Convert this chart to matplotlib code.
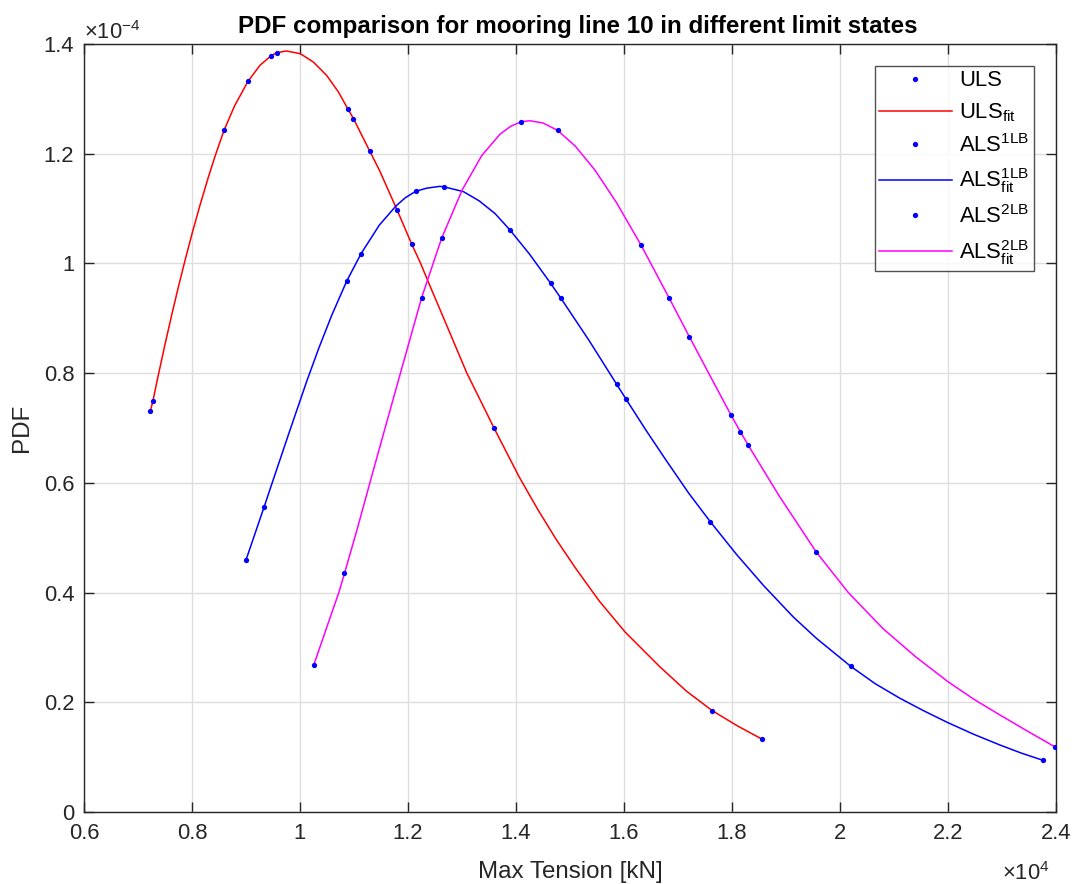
import numpy as np
import matplotlib
matplotlib.use("Agg")
import matplotlib.pyplot as plt
from matplotlib.ticker import FuncFormatter, MultipleLocator

plt.rcParams["font.family"] = ["Liberation Sans", "DejaVu Sans"]
plt.rcParams["mathtext.fontset"] = "custom"
plt.rcParams["mathtext.rm"] = "Liberation Sans"
plt.rcParams["mathtext.it"] = "Liberation Sans:italic"
plt.rcParams["mathtext.bf"] = "Liberation Sans:bold"

X_UNIT = 1e4    # kN
Y_UNIT = 1e-4   # PDF

# ULS: observed maxima and fitted density
uls_x = np.array([0.7230, 0.7275, 0.8593, 0.9037, 0.9469, 0.9567, 1.0890, 1.0990,
                  1.1290, 1.1800, 1.2068, 1.3596, 1.7635, 1.8550]) * X_UNIT
uls_pdf = np.array([0.731, 0.749, 1.2426, 1.332, 1.379, 1.384, 1.281, 1.264,
                    1.205, 1.097, 1.0354, 0.6994, 0.1847, 0.1331]) * Y_UNIT
uls_fit_x = np.array([0.7230, 0.7275, 0.7374, 0.7500, 0.7626, 0.7750, 0.7880, 0.8006,
                      0.8150, 0.8300, 0.8440, 0.8593, 0.8790, 0.9037, 0.9259, 0.9469,
                      0.9567, 0.9746, 1.0006, 1.0246, 1.0494, 1.0709, 1.0890, 1.0990,
                      1.1290, 1.1470, 1.1800, 1.2068, 1.2234, 1.2360, 1.2700, 1.3090,
                      1.3337, 1.3596, 1.4058, 1.4400, 1.4750, 1.5100, 1.5413, 1.5556,
                      1.6019, 1.6667, 1.7160, 1.7635, 1.8100, 1.8550]) * X_UNIT
uls_fit_pdf = np.array([0.731, 0.749, 0.7954, 0.8524, 0.9069, 0.958, 1.0091, 1.0561,
                        1.1068, 1.1563, 1.1992, 1.2426, 1.2875, 1.332, 1.3612, 1.379,
                        1.384, 1.3873, 1.3823, 1.3672, 1.3426, 1.3130, 1.281, 1.264,
                        1.205, 1.170, 1.097, 1.0354, 1.000, 0.970, 0.891, 0.800,
                        0.751, 0.6994, 0.611, 0.552, 0.496, 0.445, 0.402, 0.3829,
                        0.3282, 0.2644, 0.2200, 0.1847, 0.157, 0.1331]) * Y_UNIT

# ALS, one line broken
als1_x = np.array([0.9000, 0.9333, 1.0866, 1.1132, 1.2141, 1.2672, 1.3889, 1.4642,
                   1.4828, 1.5865, 1.6037, 1.7598, 2.0198, 2.3760]) * X_UNIT
als1_pdf = np.array([0.4594, 0.5554, 0.968, 1.0172, 1.1314, 1.1395, 1.0609, 0.9637,
                     0.937, 0.7796, 0.7528, 0.5292, 0.2656, 0.0942]) * Y_UNIT
als1_fit_x = np.array([0.9000, 0.9333, 0.9485, 0.9800, 1.0124, 1.0350, 1.0590, 1.0866,
                       1.1132, 1.1470, 1.1780, 1.1950, 1.2141, 1.2346, 1.2590, 1.2672,
                       1.3024, 1.3319, 1.3611, 1.3889, 1.4250, 1.4642, 1.4828, 1.5350,
                       1.5865, 1.6037, 1.6400, 1.6767, 1.7200, 1.7598, 1.8080, 1.8580,
                       1.9135, 1.9569, 2.0198, 2.0650, 2.1110, 2.1550, 2.2000, 2.2480,
                       2.2963, 2.3360, 2.3760]) * X_UNIT
als1_fit_pdf = np.array([0.4594, 0.5554, 0.600, 0.692, 0.785, 0.846, 0.906, 0.968,
                         1.0180, 1.070, 1.105, 1.1197, 1.1314, 1.1372, 1.1405, 1.1395,
                         1.131, 1.114, 1.091, 1.0609, 1.017, 0.9637, 0.937, 0.860,
                         0.7796, 0.7528, 0.697, 0.643, 0.581, 0.5292, 0.470, 0.4133,
                         0.3555, 0.3161, 0.2656, 0.234, 0.2073, 0.1845, 0.1628, 0.1415,
                         0.1221, 0.1073, 0.0942]) * Y_UNIT

# ALS, two lines broken
als2_x = np.array([1.0257, 1.0824, 1.2252, 1.2622, 1.4098, 1.4772, 1.6315, 1.6833,
                   1.7209, 1.7981, 1.8154, 1.8302, 1.9556, 2.3976]) * X_UNIT
als2_pdf = np.array([0.2685, 0.435, 0.9375, 1.0457, 1.2584, 1.2425, 1.0335, 0.9375,
                     0.8666, 0.7237, 0.6933, 0.6684, 0.4745, 0.119]) * Y_UNIT
als2_fit_x = np.array([1.0257, 1.0500, 1.0719, 1.0824, 1.1060, 1.1294, 1.1580, 1.1860,
                       1.2252, 1.2622, 1.3006, 1.3365, 1.3704, 1.3900, 1.4098, 1.4257,
                       1.4500, 1.4772, 1.5100, 1.5460, 1.5860, 1.6315, 1.6833, 1.7209,
                       1.7600, 1.7981, 1.8154, 1.8302, 1.8863, 1.9556, 2.0154, 2.0800,
                       2.1400, 2.2000, 2.2480, 2.2963, 2.3470, 2.3976]) * X_UNIT
als2_fit_pdf = np.array([0.2685, 0.338, 0.400, 0.435, 0.516, 0.600, 0.7015, 0.800,
                         0.9375, 1.0457, 1.1345, 1.1965, 1.2356, 1.2499, 1.2584, 1.2601,
                         1.2560, 1.2425, 1.2136, 1.1704, 1.1110, 1.0335, 0.9375, 0.8666,
                         0.794, 0.7237, 0.6933, 0.6684, 0.5778, 0.4745, 0.400, 0.334,
                         0.283, 0.2375, 0.2055, 0.1768, 0.1475, 0.119]) * Y_UNIT

legend_labels = [r"ULS", r"ULS$_{\mathrm{fit}}$",
                 r"ALS$^{\mathrm{1LB}}$", r"ALS$^{\mathrm{1LB}}_{\mathrm{fit}}$",
                 r"ALS$^{\mathrm{2LB}}$", r"ALS$^{\mathrm{2LB}}_{\mathrm{fit}}$"]

AX_COL = "#262626"
TICK_FS = 15.8
LABEL_FS = 17.4

fig = plt.figure(figsize=(10.75, 8.84), dpi=100)
ax = fig.add_axes([84 / 1075, 1 - 812 / 884, (1056 - 84) / 1075, (812 - 44) / 884])

dot = dict(linestyle="none", marker="o", markersize=3.8, color="blue",
           markeredgewidth=0, zorder=3)
h1, = ax.plot(uls_x, uls_pdf, **dot)
h2, = ax.plot(uls_fit_x, uls_fit_pdf, color="red", lw=1.1, zorder=2)
h3, = ax.plot(als1_x, als1_pdf, **dot)
h4, = ax.plot(als1_fit_x, als1_fit_pdf, color="blue", lw=1.1, zorder=2)
h5, = ax.plot(als2_x, als2_pdf, **dot)
h6, = ax.plot(als2_fit_x, als2_fit_pdf, color="magenta", lw=1.1, zorder=2)

ax.set_xlim(0.6 * X_UNIT, 2.4 * X_UNIT)
ax.set_ylim(0, 1.4 * Y_UNIT)
ax.xaxis.set_major_locator(MultipleLocator(0.2 * X_UNIT))
ax.yaxis.set_major_locator(MultipleLocator(0.2 * Y_UNIT))
ax.xaxis.set_major_formatter(FuncFormatter(lambda v, p: f"{v / X_UNIT:g}"))
ax.yaxis.set_major_formatter(FuncFormatter(lambda v, p: f"{v / Y_UNIT:g}"))

ax.grid(True, color="#dedede", lw=1.0)
ax.set_axisbelow(True)
for s in ax.spines.values():
    s.set_color(AX_COL)
    s.set_linewidth(1.0)
ax.tick_params(direction="in", length=7.2, width=1.0, colors=AX_COL,
               labelsize=TICK_FS, top=True, right=True)
ax.tick_params(axis="x", pad=8)
ax.tick_params(axis="y", pad=7)

ax.set_xlabel("Max Tension [kN]", fontsize=LABEL_FS, color=AX_COL, labelpad=12)
ax.set_ylabel("PDF", fontsize=LABEL_FS, color=AX_COL, labelpad=8)
ax.set_title("PDF comparison for mooring line 10 in different limit states",
             fontsize=LABEL_FS, fontweight="bold", color="black", pad=8, x=0.508)

ax.text(0.0, 1.0, r"$\times10^{-4}$", transform=ax.transAxes, fontsize=TICK_FS,
        color=AX_COL, ha="left", va="bottom")
ax.text(0.9938, -0.0651, r"$\times10^{4}$", transform=ax.transAxes, fontsize=TICK_FS,
        color=AX_COL, ha="right", va="top")

leg = ax.legend([h1, h2, h3, h4, h5, h6], legend_labels, loc="upper right",
                bbox_to_anchor=(0.9774, 0.9714), borderaxespad=0, fontsize=TICK_FS,
                frameon=True, fancybox=False, handlelength=3.3, labelspacing=0.45,
                handletextpad=0.35, borderpad=0.2)
leg.get_frame().set_edgecolor(AX_COL)
leg.get_frame().set_linewidth(1.0)

fig.savefig("out.png", dpi=100)
